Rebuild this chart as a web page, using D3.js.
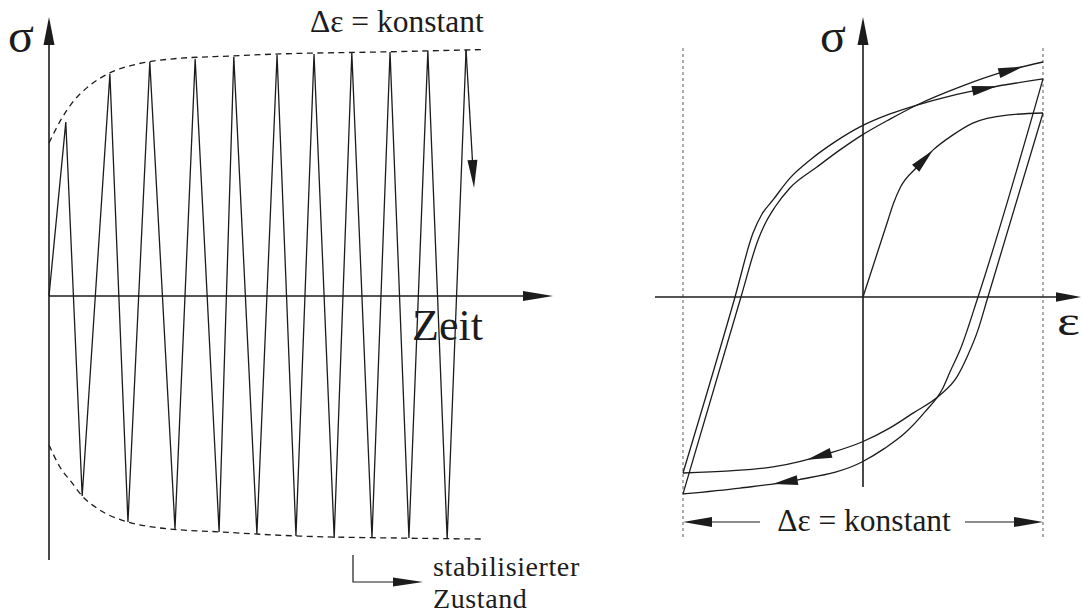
<!DOCTYPE html>
<html>
<head>
<meta charset="utf-8">
<script src="https://cdn.jsdelivr.net/npm/d3@7"></script>
<style>
  body { margin: 0; background: #fff; }
  text { font-family: "Liberation Serif", "Times New Roman", serif; fill: #1c1c1c; }
</style>
</head>
<body>
<svg id="chart" width="1083" height="613"></svg>
<script>
// ---- Left panel: stress σ over time under constant strain amplitude ----
// time in arbitrary units, stress in % of the stabilised amplitude
const peakTimes    = [0.40, 1.45, 2.40, 3.48, 4.40, 5.43, 6.31, 7.21, 8.12, 9.02, 9.93];
const peakStress   = [70.7, 90.2, 95.1, 96.3, 97.2, 98.0, 98.4, 98.8, 99.2, 99.6, 100];
const troughTimes  = [0.79, 1.88, 3.00, 4.05, 4.95, 5.88, 6.79, 7.69, 8.57, 9.48];
const troughStress = [-81.3, -91.9, -94.7, -95.9, -96.7, -97.6, -98.4, -98.4, -98.4, -98.8];
const lastDropEnd  = [10.12, 43.9];

const upperEnvTime   = [0, 0.31, 0.55, 0.90, 1.45, 2.10, 2.88, 4.38, 5.50, 7.88, 10.38];
const upperEnvStress = [62.2, 72.4, 78.5, 84.6, 90.7, 94.3, 96.3, 97.6, 98.4, 99.2, 100.2];
const lowerEnvTime   = [0, 0.26, 0.55, 0.79, 1.21, 1.88, 2.64, 4.07, 5.98, 8.36, 10.38];
const lowerEnvStress = [-60.6, -69.5, -76.0, -81.3, -87.0, -91.9, -94.3, -95.9, -97.6, -98.4, -98.8];

// ---- Right panel: σ–ε hysteresis (strain normalised to ±1) ----
const initialEps = [0, 0.14, 0.17, 0.21, 0.30, 0.39, 0.50, 0.61, 0.80, 1];
const initialSig = [0, 33, 40, 47, 55.3, 62.6, 69, 74, 77.4, 78.3];

const unload1Eps = [1, 0.689, 0.639, 0.583, 0.522, 0.428, 0.278, 0.15, -0.006, -0.183, -0.5, -0.739, -1];
const unload1Sig = [78.3, -1.3, -14, -24.7, -34, -41.7, -49.4, -55.7, -61.7, -66.4, -72.3, -74.0, -74.9];

const reload1Eps = [-1, -0.711, -0.611, -0.561, -0.5, -0.406, -0.294, -0.156, -0.006, 0.15, 0.3, 0.483, 0.689, 1];
const reload1Sig = [-74.9, 0, 27.2, 35.3, 41.3, 50.6, 58.3, 66, 72.8, 77.9, 81.7, 85.5, 88.9, 92.8];

const unload2Eps = [1, 0.639, 0.539, 0.483, 0.444, 0.344, 0.233, 0.122, -0.006, -0.367, -0.683, -1];
const unload2Sig = [92.8, 0, -22.6, -31.9, -38.7, -48.9, -57.9, -64.3, -70.2, -77.9, -81.3, -83.8];

const reload2Eps = [-1, -0.678, -0.583, -0.539, -0.489, -0.406, -0.256, -0.128, -0.006, 0.15, 0.3, 0.539, 0.817, 1];
const reload2Sig = [-83.8, 0, 24.3, 31.9, 38.3, 46.4, 55.3, 62.6, 68.9, 75.7, 81.7, 89.4, 96.6, 100];

// strain position of the direction arrow on each branch
const branchArrowEps = [0.389, -0.311, 0.744, -0.5, 0.889];

const ink = "#1c1c1c";
const svg = d3.select("#chart");

function arrowHead(g, tip, angle, len, hw) {
  const c = Math.cos(angle), s = Math.sin(angle);
  const bx = tip[0] - c * len, by = tip[1] - s * len;
  const pts = [tip, [bx - s * hw, by + c * hw], [bx + s * hw, by - c * hw]];
  g.append("path").attr("d", "M" + pts.map(p => p.join(",")).join("L") + "Z").attr("fill", ink);
}

function arrowLine(g, x1, y1, x2, y2, len, hw, width) {
  const a = Math.atan2(y2 - y1, x2 - x1);
  g.append("line")
    .attr("x1", x1).attr("y1", y1)
    .attr("x2", x2 - Math.cos(a) * (len - 2)).attr("y2", y2 - Math.sin(a) * (len - 2))
    .attr("stroke", ink).attr("stroke-width", width);
  arrowHead(g, [x2, y2], a, len, hw);
}

// ================= Left panel =================
const xL = d3.scaleLinear().domain([0, 12]).range([49, 553]);
const yL = d3.scaleLinear().domain([-100, 100]).range([542, 50]);
const gL = svg.append("g");

// axes
arrowLine(gL, xL(0), 560, xL(0), 17, 28, 5.5, 1.6);
arrowLine(gL, xL(0), yL(0), xL(12), yL(0), 30, 5, 1.6);

// envelopes
const envLine = d3.line().curve(d3.curveMonotoneX);
gL.append("path")
  .attr("d", envLine(upperEnvTime.map((t, i) => [xL(t), yL(upperEnvStress[i])])))
  .attr("fill", "none").attr("stroke", ink).attr("stroke-width", 1.3).attr("stroke-dasharray", "6,4.5");
gL.append("path")
  .attr("d", envLine(lowerEnvTime.map((t, i) => [xL(t), yL(lowerEnvStress[i])])))
  .attr("fill", "none").attr("stroke", ink).attr("stroke-width", 1.3).attr("stroke-dasharray", "6,4.5");

// zig-zag stress history
const zig = [[0, 0]];
peakTimes.forEach((t, i) => {
  zig.push([t, peakStress[i]]);
  if (i < troughTimes.length) zig.push([troughTimes[i], troughStress[i]]);
});
gL.append("path")
  .attr("d", d3.line().x(d => xL(d[0])).y(d => yL(d[1]))(zig))
  .attr("fill", "none").attr("stroke", ink).attr("stroke-width", 1.3).attr("stroke-linejoin", "miter");
const lastPeak = zig[zig.length - 1];
arrowLine(gL, xL(lastPeak[0]), yL(lastPeak[1]), xL(lastDropEnd[0]), yL(lastDropEnd[1]), 28, 5, 1.3);

// labels
gL.append("text").attr("x", 8).attr("y", 52).attr("font-size", 48).text("σ");
gL.append("text").attr("x", 310).attr("y", 32).attr("font-size", 31.5).text("Δε = konstant");
gL.append("text").attr("x", 412).attr("y", 340).attr("font-size", 44).text("Zeit");

// stabilised-state marker
gL.append("path").attr("d", "M353,555V582H400").attr("fill", "none").attr("stroke", ink).attr("stroke-width", 1.2);
arrowHead(gL, [423, 582], 0, 30, 4.5);
gL.append("text").attr("x", 433).attr("y", 576).attr("font-size", 28)
  .attr("letter-spacing", 0.6).text("stabilisierter");
gL.append("text").attr("x", 433).attr("y", 608).attr("font-size", 28)
  .attr("letter-spacing", 0.6).text("Zustand");

// ================= Right panel =================
const xR = d3.scaleLinear().domain([-1, 1]).range([683, 1043]);
const yR = d3.scaleLinear().domain([-100, 100]).range([532, 62]);
const gR = svg.append("g");

// strain limits
[-1, 1].forEach(e => {
  gR.append("line")
    .attr("x1", xR(e)).attr("x2", xR(e)).attr("y1", 48).attr("y2", 538)
    .attr("stroke", "#8a8a8a").attr("stroke-width", 1.4).attr("stroke-dasharray", "3,3");
});

// axes
arrowLine(gR, 655, yR(0), 1081, yR(0), 25, 4.8, 1.6);
arrowLine(gR, xR(0), 487, xR(0), 17, 28, 5.5, 1.6);

// hysteresis branches
const branches = [
  [initialEps, initialSig],
  [unload1Eps, unload1Sig],
  [reload1Eps, reload1Sig],
  [unload2Eps, unload2Sig],
  [reload2Eps, reload2Sig]
];
const branchLine = d3.line().curve(d3.curveMonotoneX);
branches.forEach(([eps, sig], bi) => {
  const path = gR.append("path")
    .attr("d", branchLine(eps.map((e, i) => [xR(e), yR(sig[i])])))
    .attr("fill", "none").attr("stroke", ink).attr("stroke-width", 1.3);
  const node = path.node();
  const L = node.getTotalLength();
  const tx = xR(branchArrowEps[bi]);
  let best = 0, bestD = Infinity;
  for (let l = 0; l <= L; l += 0.5) {
    const d = Math.abs(node.getPointAtLength(l).x - tx);
    if (d < bestD) { bestD = d; best = l; }
  }
  const tip = node.getPointAtLength(best);
  const back = node.getPointAtLength(Math.max(0, best - 20));
  arrowHead(gR, [tip.x, tip.y], Math.atan2(tip.y - back.y, tip.x - back.x), 25, 5);
});

// labels
gR.append("text").attr("x", 820).attr("y", 52).attr("font-size", 48).text("σ");
gR.append("text").attr("transform", "translate(1057,335) scale(1.3,1)").attr("font-size", 42).text("ε");

// strain range dimension
const dimY = 522;
arrowLine(gR, 760, dimY, xR(-1), dimY, 29, 5, 1.2);
arrowLine(gR, 965, dimY, xR(1), dimY, 29, 5, 1.2);
gR.append("text").attr("x", (xR(-1) + xR(1)) / 2 + 1).attr("y", 531)
  .attr("font-size", 31.5).attr("text-anchor", "middle").text("Δε = konstant");
</script>
</body>
</html>
